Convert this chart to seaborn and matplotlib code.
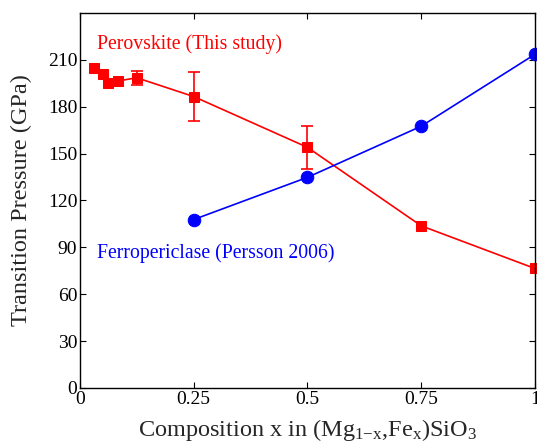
import matplotlib
matplotlib.use("Agg")
import matplotlib.pyplot as plt
import seaborn as sns
import pandas as pd

# Data
pv_x = [1/32, 0.05, 1/16, 1/12, 0.125, 0.25, 0.5, 0.75, 1.0]
pv_y = [204.5, 201.0, 195.5, 196.5, 198.5, 186.5, 154.0, 103.8, 76.5]
pv_err = [0, 0, 0, 0, 4.5, 15.5, 13.6, 0, 0]
fp_x = [0.25, 0.5, 0.75, 1.0]
fp_y = [107.8, 134.8, 167.5, 213.5]
xticks = [0, 0.25, 0.5, 0.75, 1]
xticklabels = ["0", "0.25", "0.5", "0.75", "1"]
yticks = [0, 30, 60, 90, 120, 150, 180, 210]

sns.set_theme(style="ticks")
plt.rcParams['font.family'] = ['Liberation Serif', 'DejaVu Serif']
plt.rcParams['mathtext.fontset'] = 'custom'
plt.rcParams['mathtext.rm'] = 'Liberation Serif'
plt.rcParams['mathtext.it'] = 'Liberation Serif:italic'

fig = plt.figure(figsize=(5.37, 4.47), dpi=100)
ax = fig.add_axes([0.149, 0.132, 0.847, 0.839])

pv = pd.DataFrame({"x": pv_x, "y": pv_y})
fp = pd.DataFrame({"x": fp_x, "y": fp_y})

sns.lineplot(data=pv, x="x", y="y", ax=ax, color="#ff0000", marker="s",
             markersize=7, markeredgecolor="#ff0000", linewidth=1.2, clip_on=False)
sns.lineplot(data=fp, x="x", y="y", ax=ax, color="#0000ff", marker="o",
             markersize=9, markeredgecolor="#0000ff", linewidth=1.2, clip_on=False)

ex = [x for x, e in zip(pv_x, pv_err) if e > 0]
ey = [y for y, e in zip(pv_y, pv_err) if e > 0]
ee = [e for e in pv_err if e > 0]
ax.errorbar(ex, ey, yerr=ee, fmt="none", ecolor="#ff0000", elinewidth=1.2,
            capsize=4, capthick=1.2)

ax.text(0.037, 220, "Perovskite (This study)", color="#ff0000", fontsize=14.2,
        va="center", ha="left")
ax.text(0.037, 86, "Ferropericlase (Persson 2006)", color="#0000ff", fontsize=14.2,
        va="center", ha="left")

ax.set_xlim(0, 1)
ax.set_ylim(0, 240)
ax.set_xticks(xticks)
ax.set_xticklabels(xticklabels)
ax.set_yticks(yticks)
ax.tick_params(direction="in", top=True, right=True, length=4, width=0.8,
               labelsize=14, colors="black", pad=2)
for s in ax.spines.values():
    s.set_linewidth(1.0)
    s.set_color("black")

ax.set_xlabel(r"Composition x in (Mg$_{\mathregular{1{-}x}}$,Fe$_{\mathregular{x}}$)SiO$_{\mathregular{3}}$",
              fontsize=17.5, labelpad=7)
ax.set_ylabel("Transition Pressure (GPa)", fontsize=17.5, labelpad=11)

fig.savefig("out.png", dpi=100)
